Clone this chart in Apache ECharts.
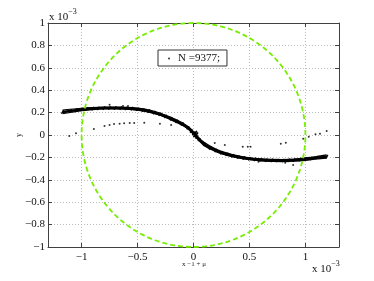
<!DOCTYPE html>
<html><head><meta charset="utf-8">
<script src="https://cdn.jsdelivr.net/npm/echarts@6/dist/echarts.min.js"></script>
<style>html,body{margin:0;padding:0;background:#fff}#c{width:374px;height:281px}</style>
</head><body><div id="c"></div><script>
const xTickLabels = [-1, -0.5, 0, 0.5, 1];
const yTickLabels = [-1, -0.8, -0.6, -0.4, -0.2, 0, 0.2, 0.4, 0.6, 0.8, 1];
const legendName = 'N =9377;';
const circleRadius = 1;

const centerX = [-1.17,-1.1,-1.05,-1.0,-0.95,-0.9,-0.85,-0.8,-0.75,-0.7,-0.65,-0.6,-0.55,-0.5,-0.45,-0.4,-0.35,-0.3,-0.25,-0.2,-0.15,-0.1,-0.05,-0.02,0.0,0.02,0.03,0.01,0.03,0.05,0.1,0.15,0.2,0.25,0.3,0.35,0.4,0.45,0.5,0.55,0.6,0.65,0.7,0.75,0.8,0.85,0.9,0.95,1.0,1.05,1.1,1.19];
const centerY = [0.205,0.215,0.222,0.228,0.232,0.236,0.238,0.240,0.241,0.241,0.240,0.238,0.235,0.230,0.223,0.213,0.200,0.185,0.166,0.145,0.122,0.098,0.065,0.035,0.015,0.022,0.008,-0.004,-0.02,-0.04,-0.085,-0.115,-0.138,-0.158,-0.172,-0.185,-0.196,-0.205,-0.212,-0.218,-0.222,-0.225,-0.227,-0.228,-0.228,-0.226,-0.224,-0.220,-0.215,-0.210,-0.203,-0.193];

const sideX = [-1.17,-1.1,-1.0,-0.9,-0.8,-0.7,-0.6,-0.5,-0.4,-0.3,-0.2,-0.1,-0.03,0.05,0.1,0.2,0.3,0.4,0.5,0.6,0.7,0.8,0.9,1.0,1.1,1.19];
const upperY = [0.222,0.230,0.239,0.245,0.248,0.249,0.247,0.240,0.224,0.196,0.157,0.11,0.06,-0.028,-0.07,-0.126,-0.162,-0.187,-0.203,-0.213,-0.218,-0.219,-0.215,-0.205,-0.192,-0.178];
const lowerY = [0.190,0.201,0.217,0.227,0.232,0.233,0.230,0.221,0.204,0.176,0.135,0.088,0.04,-0.05,-0.098,-0.148,-0.183,-0.205,-0.221,-0.231,-0.236,-0.237,-0.234,-0.226,-0.214,-0.206];

const strayX = [-1.11,-1.05,-0.89,-0.795,-0.75,-0.71,-0.66,-0.62,-0.57,-0.53,-0.44,-0.30,-0.2,-0.75,-0.63,-0.585,0.19,0.28,0.44,0.485,0.51,0.78,0.825,0.98,1.03,1.09,1.13,1.19,0.58,0.82,0.89];
const strayY = [-0.009,0.015,0.054,0.08,0.089,0.098,0.101,0.104,0.107,0.107,0.11,0.10,0.09,0.27,0.26,0.26,-0.072,-0.089,-0.104,-0.104,-0.104,-0.078,-0.069,-0.033,-0.015,0.006,0.012,0.036,-0.238,-0.247,-0.268];

const zip = (xs, ys) => xs.map((x, i) => [x, ys[i]]);
const circlePts = [];
for (let a = 0; a <= 360; a += 2) {
  const t = a * Math.PI / 180;
  circlePts.push([circleRadius * Math.cos(t), circleRadius * Math.sin(t)]);
}

const fmt = v => {
  const r = Math.round(v * 10) / 10;
  return String(r).replace('-', '\u2212');
};
const xFmt = v => xTickLabels.some(t => Math.abs(t - v) < 1e-6) ? fmt(v) : '';
const yFmt = v => yTickLabels.some(t => Math.abs(t - v) < 1e-6) ? fmt(v) : '';
const serif = 'Liberation Serif';
const axisCol = '#404040';
const grid = {left: 48, right: 35, top: 23, bottom: 34};

const chart = echarts.init(document.getElementById('c'));
chart.setOption({
  animation: false,
  backgroundColor: '#fff',
  grid: grid,
  legend: {
    data: [{name: legendName, icon: 'circle'}],
    left: 158, top: 50,
    itemWidth: 8, itemHeight: 2,
    padding: [3, 7, 2, 10],
    borderColor: '#333', borderWidth: 1, backgroundColor: '#fff',
    textStyle: {fontFamily: serif, fontSize: 11, color: '#111'}
  },
  xAxis: [{
    type: 'value', min: -1.3, max: 1.3, position: 'bottom',
    axisLine: {show: true, onZero: false, lineStyle: {color: axisCol, width: 1}},
    axisTick: {show: true, inside: true, length: 4, lineStyle: {color: axisCol}},
    axisLabel: {formatter: xFmt, fontFamily: serif, fontSize: 11, color: '#111', margin: 5, showMinLabel: false, showMaxLabel: false},
    splitLine: {show: true, lineStyle: {type: [1, 2], color: '#bbb'}}
  }, {
    type: 'value', min: -1.3, max: 1.3, position: 'top',
    axisLine: {show: true, onZero: false, lineStyle: {color: axisCol, width: 1}},
    axisTick: {show: true, inside: true, length: 4, lineStyle: {color: axisCol}},
    axisLabel: {show: false}, splitLine: {show: false}
  }],
  yAxis: [{
    type: 'value', min: -1, max: 1, interval: 0.2, position: 'left',
    axisLine: {show: true, onZero: false, lineStyle: {color: axisCol, width: 1}},
    axisTick: {show: true, inside: true, length: 4, lineStyle: {color: axisCol}},
    axisLabel: {formatter: yFmt, fontFamily: serif, fontSize: 11, color: '#111', margin: 3},
    splitLine: {show: true, lineStyle: {type: [1, 2], color: '#bbb'}}
  }, {
    type: 'value', min: -1, max: 1, interval: 0.2, position: 'right',
    axisLine: {show: true, onZero: false, lineStyle: {color: axisCol, width: 1}},
    axisTick: {show: true, inside: true, length: 4, lineStyle: {color: axisCol}},
    axisLabel: {show: false}, splitLine: {show: false}
  }],
  series: [
    {type: 'line', data: zip(sideX, upperY), symbol: 'none', smooth: 0.3,
     lineStyle: {color: '#000', width: 1.2}, silent: true},
    {type: 'line', data: zip(sideX, lowerY), symbol: 'none', smooth: 0.3,
     lineStyle: {color: '#000', width: 1.2}, silent: true},
    {type: 'line', data: zip(centerX, centerY), symbol: 'rect', symbolSize: [1.5, 4], symbolRotate: -35, showAllSymbol: true,
     itemStyle: {color: '#000'}, lineStyle: {color: '#000', width: 2.5}, silent: true},
    {type: 'scatter', name: legendName, data: zip(strayX, strayY), symbol: 'circle', symbolSize: 2,
     itemStyle: {color: '#000'}},
    {type: 'line', data: circlePts, symbol: 'none', smooth: false,
     lineStyle: {color: '#77ee00', width: 1.8, type: [5, 3]}, silent: true, z: 5}
  ],
  graphic: [
    {type: 'text', left: 49, top: 8, style: {
      text: '{a|x 10}{b|\u22123}', rich: {
        a: {fontFamily: serif, fontSize: 11, fill: '#111', padding: [6, 0, 0, 0]},
        b: {fontFamily: serif, fontSize: 8, fill: '#111', padding: [0, 0, 4, 0]}
      }}},
    {type: 'text', left: 312, top: 260, style: {
      text: '{a|x 10}{b|\u22123}', rich: {
        a: {fontFamily: serif, fontSize: 11, fill: '#111', padding: [6, 0, 0, 0]},
        b: {fontFamily: serif, fontSize: 8, fill: '#111', padding: [0, 0, 4, 0]}
      }}},
    {type: 'text', left: 182, top: 261, style: {
      text: 'x \u22121 + \u03bc', fontFamily: serif, fontSize: 7, fill: '#222'}},
    {type: 'text', x: 19, y: 135, rotation: Math.PI / 2, style: {
      text: 'y', fontFamily: serif, fontSize: 8, fill: '#222', align: 'center', verticalAlign: 'middle'}}
  ]
});
</script></body></html>
